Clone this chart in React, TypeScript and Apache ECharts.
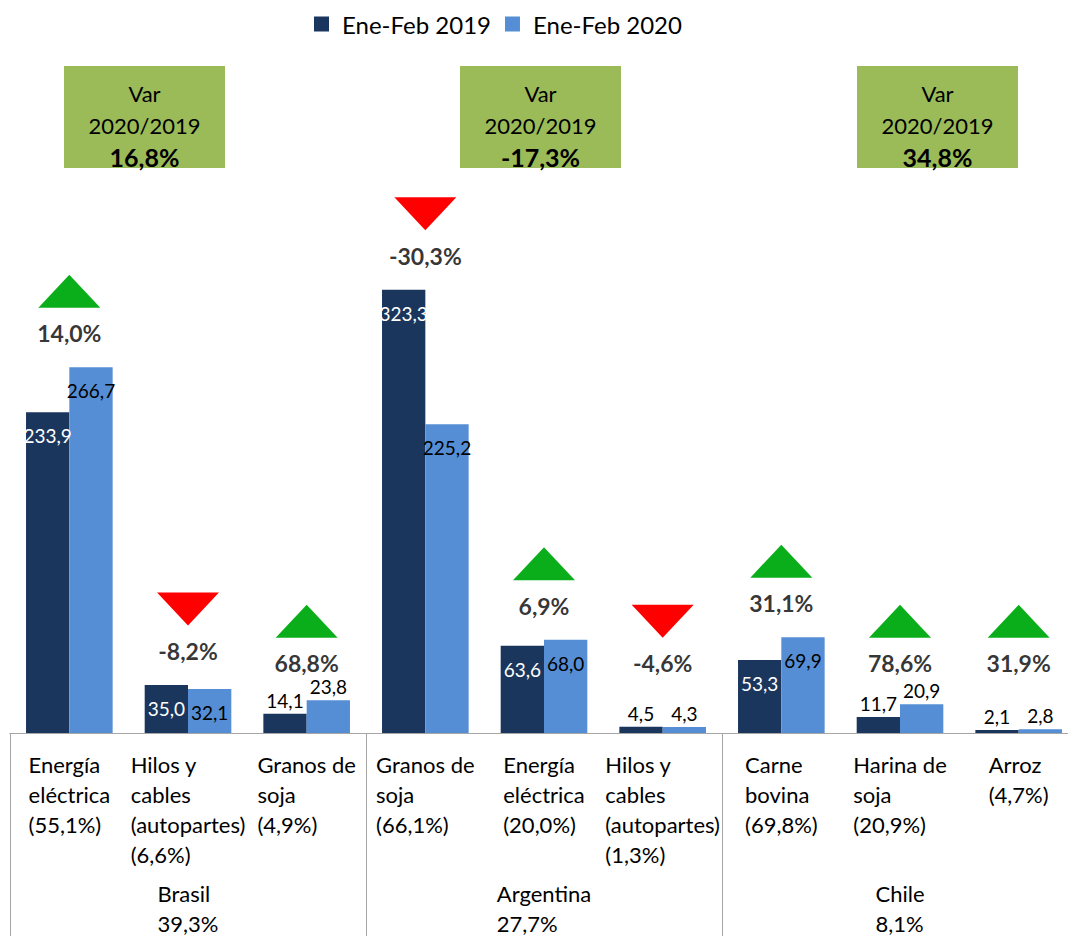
import React, { useEffect, useRef } from "react";
import * as echarts from "echarts";

const products = [
  "Energía\neléctrica",
  "Hilos y\ncables\n(autopartes)",
  "Granos de\nsoja",
  "Granos de\nsoja",
  "Energía\neléctrica",
  "Hilos y\ncables\n(autopartes)",
  "Carne\nbovina",
  "Harina de\nsoja",
  "Arroz",
];
const productShare = [55.1, 6.6, 4.9, 66.1, 20.0, 1.3, 69.8, 20.9, 4.7];
const exports2019 = [233.9, 35.0, 14.1, 323.3, 63.6, 4.5, 53.3, 11.7, 2.1];
const exports2020 = [266.7, 32.1, 23.8, 225.2, 68.0, 4.3, 69.9, 20.9, 2.8];
const productVar = [14.0, -8.2, 68.8, -30.3, 6.9, -4.6, 31.1, 78.6, 31.9];
const countries = ["Brasil", "Argentina", "Chile"];
const countryShare = [39.3, 27.7, 8.1];
const countryVar = [16.8, -17.3, 34.8];
const seriesNames = ["Ene-Feb 2019", "Ene-Feb 2020"];

const FONT = "Lato";
const DARK = "#1B365D";
const LIGHT = "#558ED5";
const UP = "#0AAE1A";
const DOWN = "#FF0000";
const BOX = "#9BBB59";
const AXIS = "#A6A6A6";
// minimum value at which the variation annotations are anchored (keeps them clear of short bars)
const ANNOT_FLOOR = 26;

const fmt = (v: number) => v.toFixed(1).replace(".", ",");

const boxLayout = [
  { x: 64, y: 66 },
  { x: 460, y: 66 },
  { x: 857, y: 66 },
];

export default function App() {
  const ref = useRef<HTMLDivElement>(null);
  useEffect(() => {
    if (!ref.current) return;
    const chart = echarts.init(ref.current, null, { renderer: "svg" });

    const barData = (vals: number[], dark: boolean) =>
      vals.map((v) => {
        const inside = v >= 30;
        return {
          value: v,
          label: inside
            ? { position: "insideTop", distance: 14, color: dark ? "#FFFFFF" : "#000000" }
            : { position: "top", distance: 4, color: "#000000" },
        };
      });

    const anchors = exports2019.map((v, i) => Math.max(v, exports2020[i], ANNOT_FLOOR));

    const wrapLeft = (text: string, style: string) =>
      text
        .split("\n")
        .map((l) => `{${style}|${l}}`)
        .join("\n");

    const option: any = {
      animation: false,
      textStyle: { fontFamily: FONT },
      legend: {
        data: seriesNames,
        top: 12,
        left: 314,
        padding: 0,
        itemWidth: 15,
        itemHeight: 15,
        itemGap: 14,
        icon: "rect",
        textStyle: { fontSize: 24, color: "#000", fontFamily: FONT, padding: [0, 0, 0, 8] },
      },
      grid: { left: 10, top: 116, width: 1068, height: 617 },
      xAxis: [
        {
          type: "category",
          data: products,
          axisLine: { show: true, lineStyle: { color: AXIS, width: 1 } },
          axisTick: { show: false },
          axisLabel: {
            interval: 0,
            margin: 16,
            formatter: (value: string, idx: number) =>
              wrapLeft(`${value}\n(${fmt(productShare[idx])}%)`, "a"),
            rich: {
              a: { align: "left", fontSize: 22, lineHeight: 30, color: "#000", fontFamily: FONT },
            },
          },
        },
        {
          type: "category",
          data: countries,
          position: "bottom",
          axisLine: { show: true, lineStyle: { color: AXIS, width: 1 } },
          axisTick: { show: true, interval: 0, length: 205, lineStyle: { color: AXIS, width: 1 } },
          axisLabel: {
            interval: 0,
            margin: 145,
            formatter: (value: string, idx: number) =>
              wrapLeft(`${value}\n${fmt(countryShare[idx])}%`, "c"),
            rich: {
              c: { align: "left", fontSize: 22, lineHeight: 30, color: "#000", fontFamily: FONT },
            },
          },
        },
      ],
      yAxis: {
        type: "value",
        min: 0,
        max: 450,
        show: false,
        splitLine: { show: false },
      },
      series: [
        {
          name: seriesNames[0],
          type: "bar",
          xAxisIndex: 0,
          data: barData(exports2019, true),
          itemStyle: { color: DARK },
          barGap: "0%",
          barCategoryGap: "27%",
          label: { show: true, fontSize: 19, fontFamily: FONT, formatter: (p: any) => fmt(p.value) },
        },
        {
          name: seriesNames[1],
          type: "bar",
          xAxisIndex: 0,
          data: barData(exports2020, false),
          itemStyle: { color: LIGHT },
          barGap: "0%",
          barCategoryGap: "27%",
          label: { show: true, fontSize: 19, fontFamily: FONT, formatter: (p: any) => fmt(p.value) },
        },
        {
          name: "triangles",
          type: "scatter",
          xAxisIndex: 0,
          silent: true,
          z: 5,
          data: anchors.map((m, i) => ({
            value: m,
            symbol: "triangle",
            symbolSize: [62, 33],
            symbolRotate: productVar[i] < 0 ? 180 : 0,
            symbolOffset: [0, -76],
            itemStyle: { color: productVar[i] < 0 ? DOWN : UP, opacity: 1 },
          })),
        },
        {
          name: "variation",
          type: "scatter",
          xAxisIndex: 0,
          silent: true,
          z: 6,
          symbol: "circle",
          symbolSize: 1,
          itemStyle: { color: "transparent" },
          data: anchors,
          label: {
            show: true,
            position: "top",
            distance: 22,
            fontSize: 23,
            fontWeight: "bold",
            color: "#000",
            fontFamily: FONT,
            formatter: (p: any) => `${fmt(productVar[p.dataIndex])}%`,
          },
        },
      ],
      graphic: countryVar.map((v, i) => ({
        type: "group",
        x: boxLayout[i].x,
        y: boxLayout[i].y,
        children: [
          { type: "rect", shape: { x: 0, y: 0, width: 161, height: 102 }, style: { fill: BOX } },
          {
            type: "text",
            x: 80.5,
            y: 59,
            style: {
              text: `{n|Var}\n{n|2020/2019}\n{b|${fmt(v)}%}`,
              align: "center",
              verticalAlign: "middle",
              rich: {
                n: { fontSize: 22, lineHeight: 32, fill: "#000", fontFamily: FONT, align: "center" },
                b: { fontSize: 25, lineHeight: 32, fontWeight: "bold", fill: "#000", fontFamily: FONT, align: "center" },
              },
            },
          },
        ],
      })),
    };

    chart.setOption(option);
    return () => chart.dispose();
  }, []);

  return (
    <div style={{ position: "absolute", left: 0, top: 0, width: 1068, height: 936, overflow: "hidden", background: "#fff" }}>
      <div ref={ref} style={{ width: 1080, height: 936 }} />
    </div>
  );
}
